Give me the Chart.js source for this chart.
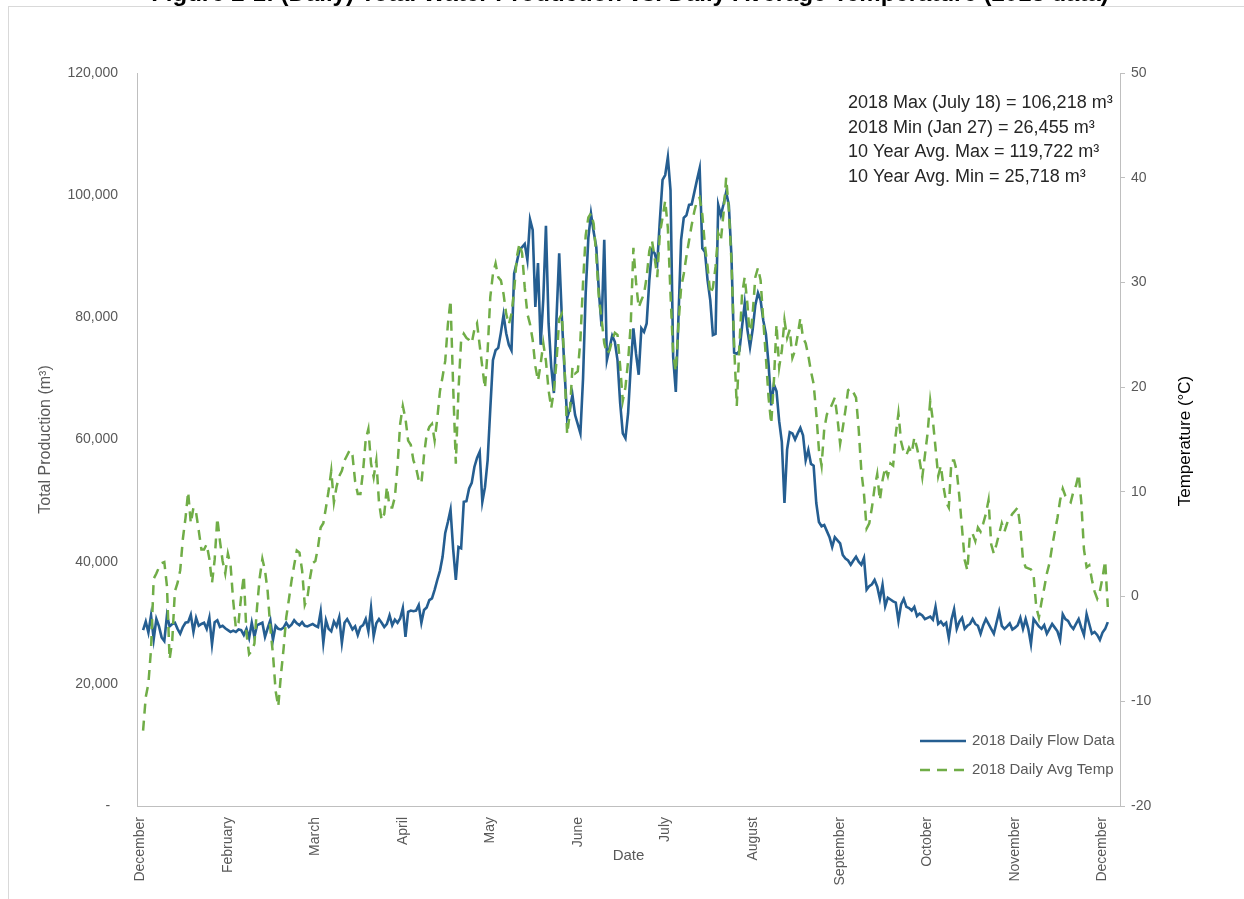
<!DOCTYPE html>
<html>
<head>
    <title>2018 Daily Flow Data and Daily Avg Temp</title>
    <script src="https://cdn.jsdelivr.net/npm/chart.js@4.4.0/dist/chart.umd.min.js"></script>
    <style>
        body { margin: 0; background: #fff; }
        canvas { display: block; }
    </style>
</head>
<body>
    <canvas id="myChart" width="1244" height="899"></canvas>

    <script>
        // daily flow, m3, Jan 1 .. Dec 31 2018
        var flow = [
            28800, 30200, 28400, 31200, 27300, 30600, 29400, 27600, 27000, 31200,
            29400, 29800, 30000, 29000, 28200, 29300, 30000, 30100, 31300, 28500,
            30800, 29500, 29800, 30000, 29000, 30800, 26455, 30100, 30400, 29300,
            29500, 29100, 28800, 28500, 28700, 28500, 28900, 28800, 28000, 29000,
            27500, 30000, 27700, 29600, 29800, 30000, 27700, 29100, 30400, 27200,
            29500, 29000, 28900, 29200, 30000, 29300, 29700, 30400, 29900, 29600,
            30100, 29500, 29400, 29600, 29800, 29500, 29300, 31800, 26700, 30400,
            29000, 28600, 30200, 29400, 30900, 26700, 30000, 30600, 29800, 28900,
            29400, 28000, 29300, 29600, 30600, 28600, 32400, 27800, 29900, 30600,
            30000, 29300, 29800, 31200, 29600, 30500, 30000, 30700, 32400, 27700,
            31800, 32000, 31900, 32000, 32900, 30000, 32100, 32500, 33700, 34000,
            35400, 37000, 38500, 40800, 44700, 46500, 48500, 42000, 37000, 42400,
            42200, 49800, 49900, 52000, 52900, 55500, 57000, 58000, 49800, 52200,
            56600, 65000, 73000, 74600, 75000, 77500, 80400, 77400, 75500, 74600,
            87200, 89000, 91000, 91500, 92000, 89400, 96000, 94300, 81700, 88900,
            75500, 83000, 95000, 79000, 71900, 67600, 80000, 90500, 80000, 71400,
            63500, 65000, 67300, 64000, 62500, 61000, 70000, 84000, 93000, 97000,
            94000, 91500, 84000, 78500, 92700, 73000, 75000, 77000, 76000, 73000,
            66000, 61000, 60200, 64300, 72000, 78200, 74000, 70600, 78200, 77600,
            79000, 86000, 91000, 90500, 88900, 96000, 102500, 103300, 106218, 100800,
            73500, 67800, 80000, 92700, 96300, 96700, 98400, 98500, 100500, 102500,
            104400, 91300, 90700, 86000, 82800, 77100, 77300, 98400, 96700, 98500,
            100500, 98400, 90000, 74200, 74000, 74500, 78500, 82300, 78000, 75100,
            78000, 82000, 84000, 82800, 79500, 77300, 72300, 65600, 69000, 67900,
            63000, 59600, 49600, 58400, 61200, 61000, 60000, 61000, 61900, 60700,
            56600, 58300, 56000, 55700, 49600, 46500, 45800, 46000, 45000, 44000,
            42400, 44000, 43500, 43000, 41100, 40500, 40200, 39500, 40200, 40800,
            40000, 39500, 40600, 35400, 36000, 36300, 37000, 35900, 33900, 36200,
            32700, 34100, 33800, 33500, 33300, 30300, 33000, 33900, 32600, 32400,
            32000, 32600, 31100, 31500, 31200, 30600, 30800, 31000, 30500, 32600,
            29800, 30200, 29600, 30000, 27500, 30500, 32200, 29000, 30200, 30800,
            29000, 29500, 29800, 30600, 29800, 29500, 28200, 29600, 30600, 29800,
            29000, 28200, 30000, 31800, 29500, 29000, 29400, 29900, 28900, 29200,
            29600, 30800, 29000, 30600, 29000, 26500, 30600, 30000, 29400, 29000,
            29600, 28200, 29000, 29800, 29200, 28600, 27200, 31400, 30600, 30300,
            29500, 29000, 29800, 30600, 29200, 28000, 31400, 29800, 28200, 28500,
            28000, 27200, 28400, 29000, 30100
        ];

        // daily average temperature, deg C
        var temp = [
            -12.8, -9.6, -8.3, -5.0, 1.7, 2.2, 2.8, 3.2, 3.3, 1.0,
            -6.0, -4.2, 0.5, 1.3, 2.5, 5.5, 7.5, 10.0, 7.0, 8.5,
            8.0, 6.3, 4.5, 4.5, 5.0, 3.6, 1.3, 3.5, 7.5, 5.3,
            3.4, 2.2, 4.1, 3.0, -0.4, -3.0, -2.5, 0.0, 2.0, -3.5,
            -5.5, -5.2, -4.5, -1.0, 1.8, 3.6, 2.5, 0.5, -3.0, -5.5,
            -9.0, -10.5, -7.5, -5.0, -2.0, -0.3, 1.5, 3.0, 4.4, 4.2,
            2.5, -0.8, -0.1, 1.8, 3.2, 3.4, 4.7, 6.6, 7.0, 8.5,
            10.1, 12.0, 9.0, 10.5, 11.5, 12.0, 13.0, 13.5, 14.0, 13.5,
            11.0, 9.8, 9.8, 12.0, 15.0, 16.0, 12.7, 11.4, 13.0, 9.0,
            7.3, 7.9, 10.5, 8.5, 8.5, 9.5, 12.5, 16.5, 18.2, 17.0,
            14.9, 14.5, 13.0, 12.3, 11.1, 10.8, 13.5, 15.5, 16.2, 16.5,
            14.9, 17.0, 19.6, 21.0, 22.5, 26.0, 28.3, 20.0, 12.7, 19.7,
            24.5, 25.1, 24.7, 24.5, 24.2, 25.5, 26.1, 24.0, 21.9, 19.9,
            23.5, 28.6, 30.8, 31.8, 30.5, 30.2, 28.9, 27.0, 26.0, 27.0,
            29.2, 32.4, 33.7, 32.8, 29.5, 27.0, 26.0, 24.5, 22.0, 20.6,
            22.2, 24.2, 22.5, 19.7, 18.0, 19.7, 22.5, 26.5, 27.0, 22.0,
            15.5, 17.5, 21.9, 21.3, 21.5, 24.5, 30.0, 34.5, 36.2, 36.6,
            35.6, 32.5, 28.5, 26.5, 24.2, 23.2, 23.5, 24.5, 25.2, 25.0,
            22.0, 18.7, 20.0, 22.5, 26.0, 33.3, 30.0, 27.6, 28.3, 28.9,
            30.5, 33.0, 34.0, 32.4, 30.5, 34.7, 36.2, 37.8, 35.2, 28.9,
            23.2, 21.5, 26.0, 29.5, 30.8, 32.5, 34.0, 35.5, 36.8, 37.8,
            38.1, 36.5, 33.5, 31.5, 28.9, 29.5, 31.5, 34.7, 34.0, 36.6,
            40.0, 37.0, 32.0, 24.0, 18.2, 24.0, 28.9, 30.5, 28.0, 24.5,
            27.0, 30.5, 31.4, 30.2, 26.4, 22.8, 19.0, 16.5, 20.5, 26.0,
            21.9, 23.5, 26.4, 24.7, 25.5, 22.8, 23.5, 25.0, 26.6, 24.7,
            24.2, 23.0, 21.5, 20.3, 17.5, 14.0, 12.5, 16.0, 17.4, 17.8,
            18.4, 19.0, 17.0, 14.6, 16.1, 17.8, 19.7, 19.9, 19.5, 19.0,
            16.0, 12.0, 9.8, 6.5, 7.0, 8.5, 10.4, 11.7, 9.2, 11.1,
            12.3, 11.5, 12.7, 12.5, 15.5, 17.5, 14.8, 13.8, 13.5, 14.2,
            13.7, 15.2, 14.2, 13.0, 11.4, 13.5, 15.6, 18.7, 16.8, 14.2,
            11.5, 12.5, 10.5, 9.0, 8.5, 13.0, 13.0, 12.0, 9.5, 6.5,
            3.5, 2.5, 6.0, 6.0, 5.3, 6.6, 6.2, 7.0, 7.9, 9.2,
            5.0, 4.1, 5.0, 6.0, 7.0, 6.2, 7.0, 7.5, 7.9, 8.2,
            8.5, 6.6, 3.5, 2.8, 2.7, 2.6, 2.0, -1.0, -2.0, -0.5,
            0.8, 2.2, 3.2, 4.8, 6.2, 7.5, 9.2, 10.3, 9.6, 9.2,
            9.0, 10.0, 10.6, 11.7, 9.0, 4.5, 2.8, 3.0, 1.6, 0.5,
            -0.2, 0.5, 1.8, 3.4, -1.0
        ];

        // date axis: a label every 33 days from Dec 31
        var tickDays = [0, 33, 66, 99, 132, 165, 198, 231, 264, 297, 330, 363];
        var tickLabels = ['December', 'February', 'March', 'April', 'May', 'June',
                          'July', 'August', 'September', 'October', 'November', 'December'];

        var notes = [
            '2018 Max (July 18) = 106,218 m\u00b3',
            '2018 Min (Jan 27) = 26,455 m\u00b3',
            '10 Year Avg. Max = 119,722 m\u00b3',
            '10 Year Avg. Min = 25,718 m\u00b3'
        ];

        var fontName = "'Liberation Sans', Arial, sans-serif";
        Chart.defaults.font.family = fontName;
        Chart.defaults.color = '#595959';

        var decor = {
            id: 'decor',
            beforeDraw: function(chart) {
                var c = chart.ctx;
                c.save();
                c.strokeStyle = '#d9d9d9';
                c.lineWidth = 1;
                c.strokeRect(8.5, 6.5, 1300, 1000);
                // title sits mostly above the page edge
                c.fillStyle = '#000';
                c.font = 'bold 24px ' + fontName;
                c.textAlign = 'center';
                c.textBaseline = 'alphabetic';
                c.fillText('Figure 2-1: (Daily) Total Water Production vs. Daily Average Temperature (2018 data)', 630, 0.5);
                c.restore();
            },
            afterDraw: function(chart) {
                var c = chart.ctx;
                c.save();
                // notes
                c.fillStyle = '#262626';
                c.font = '18px ' + fontName;
                c.textAlign = 'left';
                c.textBaseline = 'middle';
                notes.forEach(function(t, i) {
                    c.fillText(t, 848, 103 + i * 24.6);
                });
                // legend
                c.font = '15px ' + fontName;
                c.fillStyle = '#595959';
                chart.data.datasets.forEach(function(ds, i) {
                    var y = 741 + i * 29;
                    c.strokeStyle = ds.borderColor;
                    c.lineWidth = ds.borderWidth;
                    c.setLineDash(ds.borderDash || []);
                    c.beginPath();
                    c.moveTo(920, y);
                    c.lineTo(966, y);
                    c.stroke();
                    c.fillText(ds.label, 972, y);
                });
                c.setLineDash([]);
                // right axis title, reading upwards
                c.translate(1185, 441);
                c.rotate(-Math.PI / 2);
                c.textAlign = 'center';
                c.fillStyle = '#000';
                c.font = '17px ' + fontName;
                c.fillText('Temperature (\u00b0C)', 0, 0);
                c.restore();
            }
        };

        var ctx = document.getElementById('myChart').getContext('2d');
        var chart = new Chart(ctx, {
            type: 'line',
            data: {
                datasets: [{
                    label: '2018 Daily Flow Data',
                    data: flow.map(function(v, i) { return {x: i + 1, y: v}; }),
                    yAxisID: 'y',
                    borderColor: '#255E91',
                    borderWidth: 2.6,
                    pointRadius: 0,
                    tension: 0,
                    order: 2
                }, {
                    label: '2018 Daily Avg Temp',
                    data: temp.map(function(v, i) { return {x: i + 1, y: v}; }),
                    yAxisID: 'y1',
                    borderColor: '#70AD47',
                    borderWidth: 2.5,
                    borderDash: [10, 7],
                    pointRadius: 0,
                    tension: 0,
                    order: 1
                }]
            },
            options: {
                responsive: false,
                animation: false,
                devicePixelRatio: 1,
                layout: { padding: { top: 73, left: 0, right: 0, bottom: 0 } },
                plugins: {
                    legend: { display: false },
                    tooltip: { enabled: false }
                },
                scales: {
                    x: {
                        type: 'linear',
                        min: -1.3,
                        max: 369.6,
                        afterBuildTicks: function(s) {
                            s.ticks = tickDays.map(function(d) { return {value: d}; });
                        },
                        afterFit: function(s) { s.height = 93; },
                        grid: { display: true, drawOnChartArea: false, drawTicks: false },
                        border: { color: '#bfbfbf' },
                        ticks: {
                            autoSkip: false,
                            minRotation: 90,
                            maxRotation: 90,
                            padding: 11,
                            font: { size: 14 },
                            callback: function(v) { return tickLabels[tickDays.indexOf(v)]; }
                        },
                        title: {
                            display: true,
                            text: 'Date',
                            font: { size: 15 },
                            padding: { top: 0, bottom: 34 }
                        }
                    },
                    y: {
                        position: 'left',
                        min: 0,
                        max: 120000,
                        afterFit: function(s) { s.width = 137; },
                        grid: { display: true, drawOnChartArea: false, drawTicks: false },
                        border: { color: '#bfbfbf' },
                        ticks: {
                            stepSize: 20000,
                            padding: 19,
                            font: { size: 14 },
                            callback: function(v) { return v === 0 ? '-  ' : v.toLocaleString('en-US'); }
                        },
                        title: {
                            display: true,
                            text: 'Total Production (m\u00b3)',
                            font: { size: 16 },
                            padding: { top: 36, bottom: 0 }
                        }
                    },
                    y1: {
                        position: 'right',
                        min: -20,
                        max: 50,
                        afterFit: function(s) { s.width = 124; },
                        grid: { display: true, drawOnChartArea: false, drawTicks: true, tickLength: 5, color: '#bfbfbf' },
                        border: { color: '#bfbfbf' },
                        ticks: {
                            stepSize: 10,
                            padding: 6,
                            font: { size: 14 }
                        }
                    }
                }
            },
            plugins: [decor]
        });
    </script>
</body>
</html>
